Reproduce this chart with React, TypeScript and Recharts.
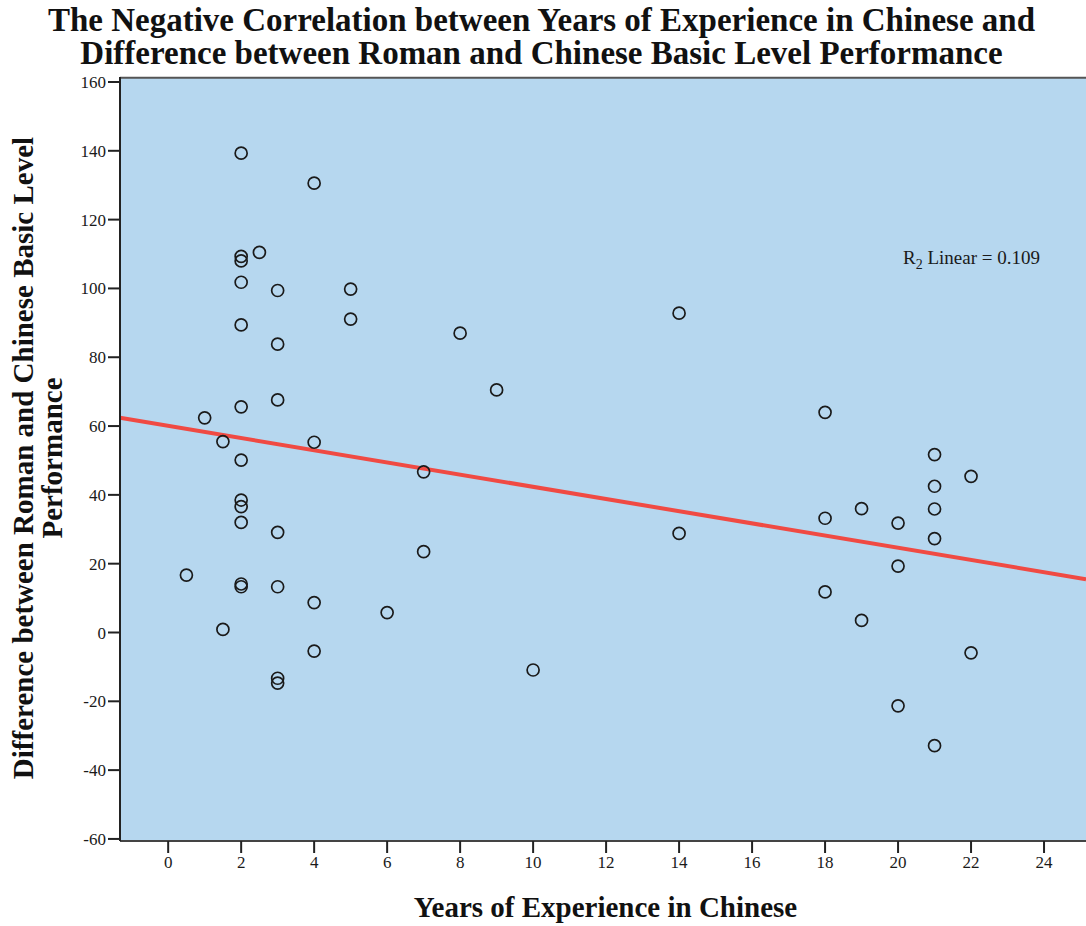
import React from "react";
import {
  ScatterChart,
  Scatter,
  XAxis,
  YAxis,
  CartesianGrid,
  ReferenceLine,
} from "recharts";

const experienceYears = [
  0.5, 1, 1.5, 1.5, 2, 2, 2, 2, 2, 2, 2, 2, 2, 2, 2, 2, 2.5, 3, 3, 3, 3, 3, 3, 3,
  4, 4, 4, 4, 5, 5, 6, 7, 7, 8, 9, 10, 14, 14, 18, 18, 18, 19, 19, 20, 20, 20,
  21, 21, 21, 21, 21, 22, 22,
];
const performanceDiff = [
  16.7, 62.4, 55.5, 0.9, 139.3, 109.3, 108.0, 101.8, 89.4, 65.6, 50.1, 38.5,
  36.6, 32.0, 14.1, 13.3, 110.5, 99.4, 83.8, 67.6, 29.1, 13.3, -13.3, -14.7,
  130.6, 55.3, 8.7, -5.4, 99.8, 91.1, 5.8, 46.7, 23.5, 87.0, 70.5, -10.9, 92.8,
  28.8, 64.0, 33.2, 11.8, 36.0, 3.5, 31.8, 19.3, -21.3, 51.7, 42.5, 35.9, 27.3,
  -32.9, 45.4, -5.9,
];
const fitX = [-1.32, 25.15];
const fitY = [62.4, 15.5];
const xTicks = [0, 2, 4, 6, 8, 10, 12, 14, 16, 18, 20, 22, 24];
const yTicks = [-60, -40, -20, 0, 20, 40, 60, 80, 100, 120, 140, 160];

const points = experienceYears.map((x, i) => ({ x, y: performanceDiff[i] }));

const serif = '"Liberation Serif", "Times New Roman", serif';

const RingShape = (props: any) => (
  <circle
    cx={props.cx}
    cy={props.cy}
    r={6}
    fill="none"
    stroke="#1a1a1a"
    strokeWidth={1.7}
  />
);

export default function App() {
  return (
    <div
      style={{
        position: "absolute",
        left: 0,
        top: 0,
        width: 1086,
        height: 926,
        background: "#fff",
        fontFamily: serif,
        overflow: "hidden",
      }}
    >
      <div
        style={{
          position: "absolute",
          left: 0,
          top: 4,
          width: 1083,
          textAlign: "center",
          fontWeight: "bold",
          fontSize: 33,
          lineHeight: "33px",
          color: "#111",
          whiteSpace: "nowrap",
        }}
      >
        The Negative Correlation between Years of Experience in Chinese and
        <br />
        Difference between Roman and Chinese Basic Level Performance
      </div>
      <ScatterChart
        width={1086}
        height={926}
        margin={{ top: 77, right: 0, bottom: 55, left: 0 }}
      >
        <CartesianGrid
          fill="rgb(182,215,239)"
          horizontal={false}
          vertical={false}
        />
        <XAxis
          type="number"
          dataKey="x"
          domain={[-1.32, 25.15]}
          allowDataOverflow
          ticks={xTicks}
          tickSize={12}
          tickMargin={3}
          height={30}
          axisLine={{ stroke: "#444", strokeWidth: 2 }}
          tickLine={{ stroke: "#222", strokeWidth: 2 }}
          tick={{ fill: "#1a1a1a", fontSize: 17, fontFamily: serif }}
        />
        <YAxis
          type="number"
          dataKey="y"
          domain={[-60.6, 161.45]}
          allowDataOverflow
          ticks={yTicks}
          width={120}
          tickSize={12}
          tickMargin={2}
          axisLine={{ stroke: "#222", strokeWidth: 2 }}
          tickLine={{ stroke: "#222", strokeWidth: 2 }}
          tick={{ fill: "#1a1a1a", fontSize: 17, fontFamily: serif }}
        />
        <ReferenceLine y={161.2} stroke="#555" strokeWidth={2} />
        <ReferenceLine
          segment={[
            { x: fitX[0], y: fitY[0] },
            { x: fitX[1], y: fitY[1] },
          ]}
          stroke="#f04a43"
          strokeWidth={4}
        />
        <Scatter data={points} shape={RingShape} isAnimationActive={false} />
      </ScatterChart>
      <div
        style={{
          position: "absolute",
          left: 903,
          top: 247,
          fontSize: 19,
          lineHeight: "22px",
          color: "#1a1a1a",
          whiteSpace: "nowrap",
        }}
      >
        R
        <span style={{ fontSize: 14, position: "relative", top: 5 }}>2</span>{" "}
        Linear = 0.109
      </div>
      <div
        style={{
          position: "absolute",
          left: 37.7 - 400,
          top: 457.5 - 29,
          width: 800,
          height: 58,
          transform: "rotate(-90deg)",
          textAlign: "center",
          fontWeight: "bold",
          fontSize: 29,
          lineHeight: "29px",
          color: "#111",
          whiteSpace: "nowrap",
        }}
      >
        Difference between Roman and Chinese Basic Level
        <br />
        Performance
      </div>
      <div
        style={{
          position: "absolute",
          left: 0,
          top: 891,
          width: 1211,
          textAlign: "center",
          fontWeight: "bold",
          fontSize: 29,
          lineHeight: "32px",
          color: "#111",
          whiteSpace: "nowrap",
        }}
      >
        Years of Experience in Chinese
      </div>
    </div>
  );
}
